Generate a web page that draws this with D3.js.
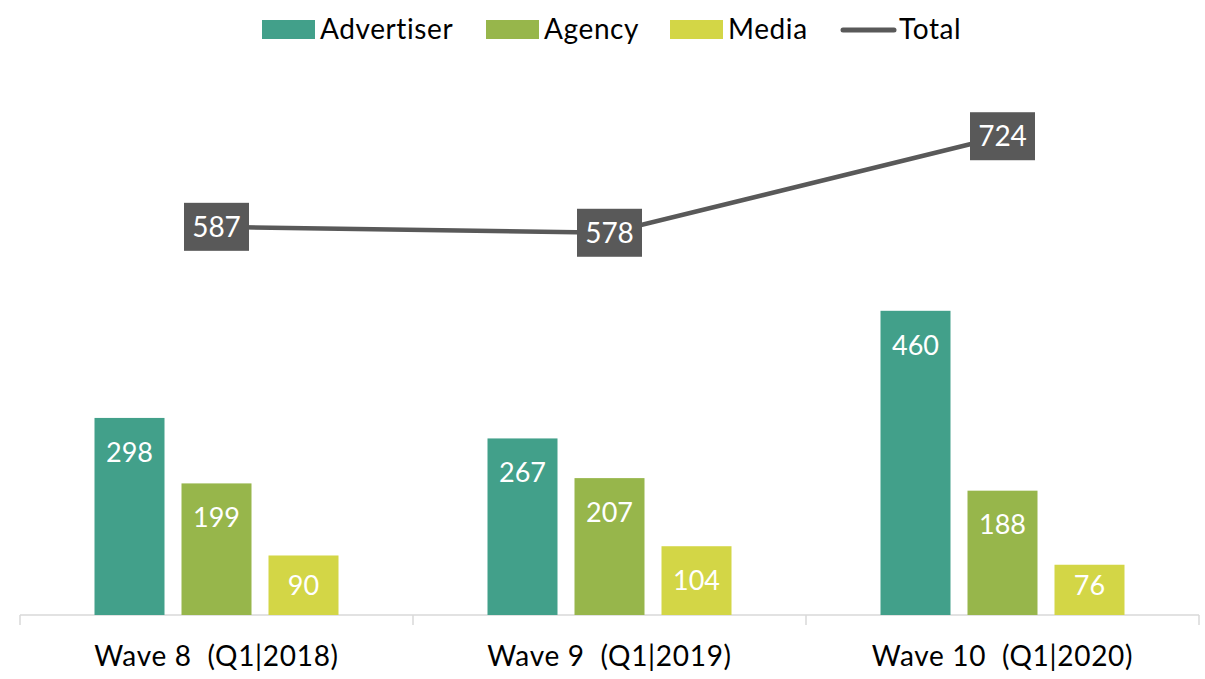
<!DOCTYPE html>
<html><head><meta charset="utf-8">
<script src="https://cdn.jsdelivr.net/npm/d3@7"></script>
<style>
body{margin:0;background:#fff;}
svg text{font-family:Lato,"Open Sans",sans-serif;white-space:pre;}
</style></head>
<body><svg id="chart" width="1205" height="679"></svg>
<script>
const categories = ["Wave 8  (Q1|2018)", "Wave 9  (Q1|2019)", "Wave 10  (Q1|2020)"];
const seriesNames = ["Advertiser", "Agency", "Media"];
const advertiser = [298, 267, 460];
const agency = [199, 207, 188];
const media = [90, 104, 76];
const total = [587, 578, 724];
const colors = {Advertiser:"#42A08A", Agency:"#97B64B", Media:"#D3D646", Total:"#595959"};

const seriesValues = {Advertiser: advertiser, Agency: agency, Media: media};
const svg = d3.select("#chart");
const base = 615;
const x0 = d3.scaleBand().domain(categories).range([20, 1199]);
const x1 = d3.scaleBand().domain(seriesNames).range([-122, 122]).paddingInner(17/87);
const y = d3.scaleLinear().domain([0, 930]).range([base, 0]);

// axis
const axis = d3.axisBottom(x0).tickSize(0).tickFormat("");
const ag = svg.append("g").attr("transform", `translate(0,${base})`).call(axis);
ag.select(".domain").remove();
ag.append("line").attr("x1", 20).attr("x2", 1199).attr("y1", 0).attr("y2", 0)
  .attr("stroke", "#d9d9d9").attr("stroke-width", 1.5);
const tickX = categories.map(c => x0(c)).concat([x0(categories[categories.length-1]) + x0.bandwidth()]);
ag.selectAll("line.tk").data(tickX).join("line").attr("class","tk")
  .attr("x1", d=>d).attr("x2", d=>d).attr("y1", 0).attr("y2", 10)
  .attr("stroke", "#d9d9d9").attr("stroke-width", 1.5);
svg.selectAll("text.cat").data(categories).join("text").attr("class","cat")
  .attr("x", d => x0(d) + x0.bandwidth()/2).attr("y", 666)
  .attr("text-anchor","middle").attr("font-size", 28).attr("letter-spacing", 0.7).attr("fill","#000")
  .text(d => d);

// bars
categories.forEach((c, i) => {
  const cx = x0(c) + x0.bandwidth()/2;
  const g = svg.append("g");
  seriesNames.forEach(s => {
    const v = seriesValues[s][i];
    const top = y(v);
    g.append("rect").attr("x", cx + x1(s)).attr("y", top)
      .attr("width", x1.bandwidth()).attr("height", base - top).attr("fill", colors[s]);
    const cy = Math.min(top + 34, base - 30);
    g.append("text").attr("x", cx + x1(s) + x1.bandwidth()/2).attr("y", cy).attr("dy","0.36em")
      .attr("text-anchor","middle").attr("font-size", 27).attr("fill","#fff").text(v);
  });
});

// total line
const line = d3.line().x((d,i) => x0(categories[i]) + x0.bandwidth()/2).y(d => y(d));
svg.append("path").datum(total).attr("d", line).attr("fill","none")
  .attr("stroke", colors.Total).attr("stroke-width", 4.5);
const lg = svg.selectAll("g.tl").data(total).join("g").attr("class","tl")
  .attr("transform", (d,i) => `translate(${x0(categories[i]) + x0.bandwidth()/2},${y(d)})`);
lg.append("rect").attr("x", -32.5).attr("y", -24).attr("width", 65).attr("height", 48).attr("fill", colors.Total);
lg.append("text").attr("y", 0).attr("dy","0.36em").attr("text-anchor","middle")
  .attr("font-size", 28).attr("fill","#fff").text(d => d);

// legend
const legendItems = [
  {name:"Advertiser", x:262, type:"rect"},
  {name:"Agency", x:486, type:"rect"},
  {name:"Media", x:670, type:"rect"},
  {name:"Total", x:841, type:"line"}
];
const leg = svg.selectAll("g.leg").data(legendItems).join("g").attr("class","leg")
  .attr("transform", d => `translate(${d.x},0)`);
leg.filter(d => d.type==="rect").append("rect").attr("x",0).attr("y",20).attr("width",53).attr("height",19)
  .attr("fill", d => colors[d.name]);
leg.filter(d => d.type==="line").append("line").attr("x1",2).attr("x2",53).attr("y1",30).attr("y2",30)
  .attr("stroke", colors.Total).attr("stroke-width",5).attr("stroke-linecap","round");
leg.append("text").attr("x", 58).attr("y", 39).attr("font-size", 28).attr("letter-spacing", 0.6).attr("fill","#000").text(d => d.name);
</script></body></html>
